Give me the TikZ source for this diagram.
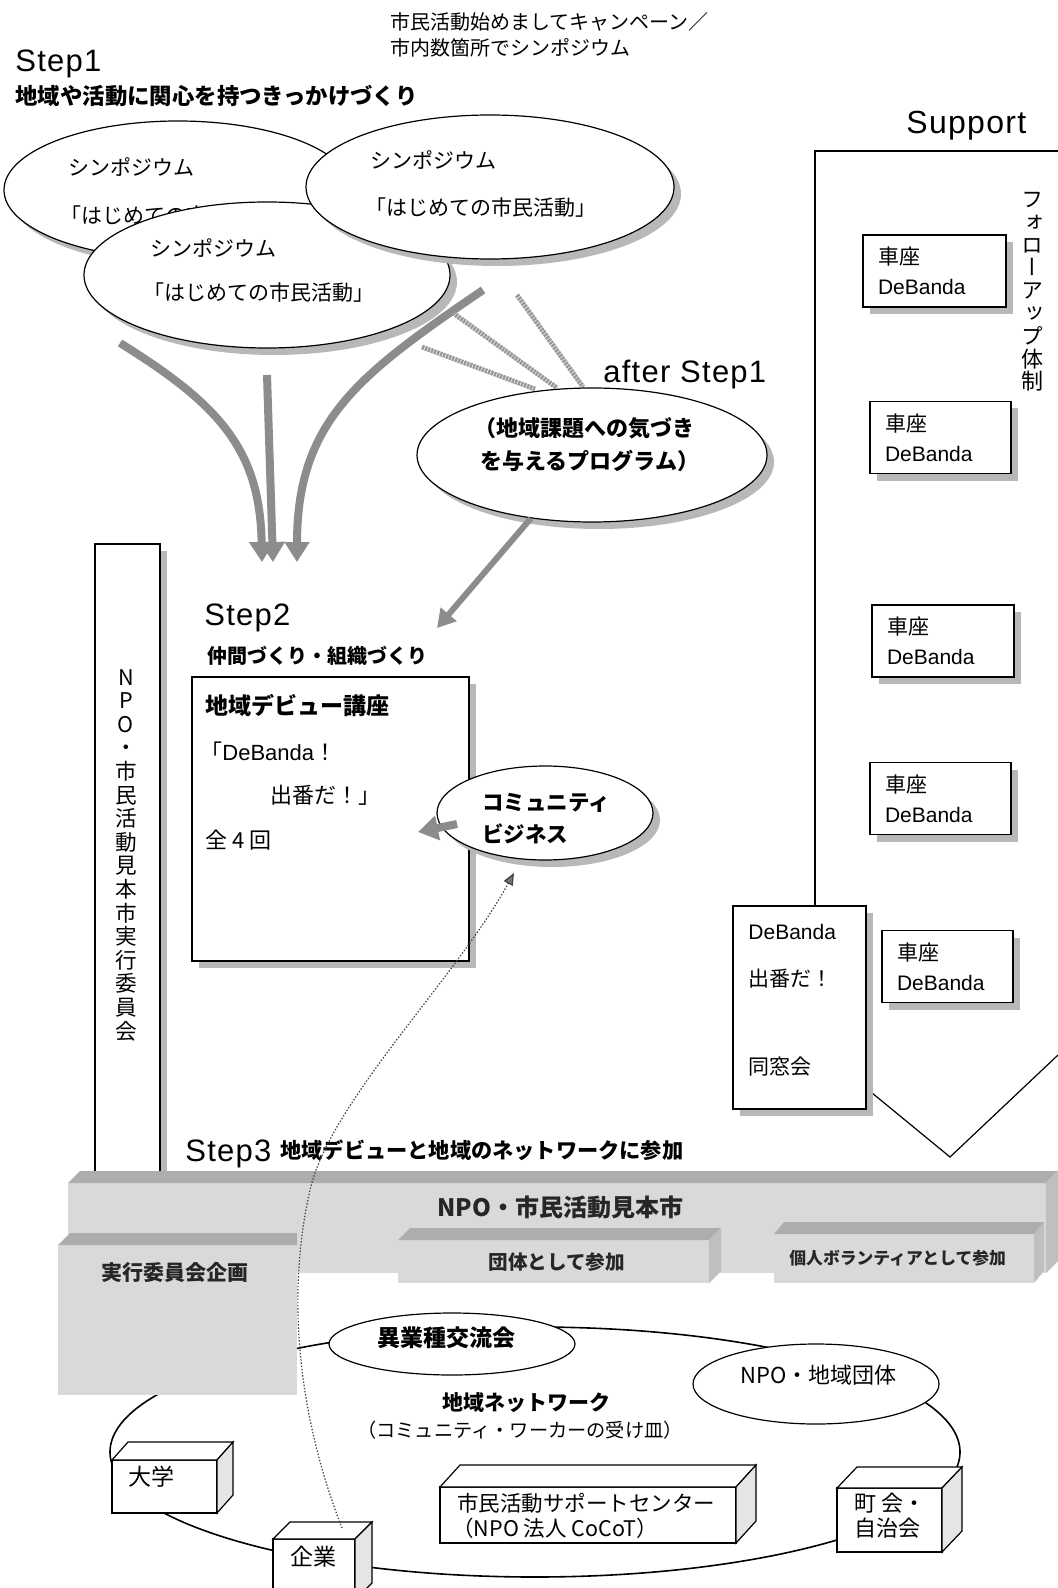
\documentclass[tikz,border=0pt]{standalone}
\usepackage{fontspec}
\setmainfont{Noto Sans CJK JP}
\newfontfamily\lat{Liberation Sans}
\newfontfamily\latw[LetterSpace=4]{Liberation Sans}
\newfontfamily\jpv[RawFeature=+vert]{Noto Sans CJK JP}
\usetikzlibrary{shapes.geometric,shadows,arrows.meta}
\newcommand\fsz[2]{\fontsize{#1}{#2}\selectfont}
\newcommand\threed[9]{%
 \fill[#7] (#1,#2) rectangle (#3,#4);
 \fill[#8] (#1,#2) -- ({#1+#5},{#2-#6}) -- ({#3+#5},{#2-#6}) -- (#3,#2) -- cycle;
 \fill[#9] (#3,#2) -- ({#3+#5},{#2-#6}) -- ({#3+#5},{#4-#6}) -- (#3,#4) -- cycle;}
\newcommand\wbox[6]{%
 \filldraw[fill=white, draw=black, line width=0.6pt] (#1,#2) rectangle (#3,#4);
 \filldraw[fill=white, draw=black, line width=0.6pt] (#1,#2) -- ({#1+#5},{#2-#6}) -- ({#3+#5},{#2-#6}) -- (#3,#2) -- cycle;
 \filldraw[fill=black!10, draw=black, line width=0.6pt] (#3,#2) -- ({#3+#5},{#2-#6}) -- ({#3+#5},{#4-#6}) -- (#3,#4) -- cycle;}
\begin{document}
\begin{tikzpicture}[x=0.5pt,y=-0.5pt,
 tx/.style={inner sep=0pt, anchor=west, text=black},
 ctx/.style={inner sep=0pt, anchor=center, text=black},
 ell/.style={ellipse, draw=black, line width=0.6pt, fill=white, inner sep=0pt},
 shd/.style={drop shadow={shadow xshift=3.5pt, shadow yshift=-3.5pt, fill=black!28, opacity=1}},
 rbox/.style={rectangle, draw=black, line width=0.6pt, fill=white, inner sep=0pt},
 kbox/.style={rbox, shd, minimum height=36pt, align=left, inner xsep=7.5pt, inner ysep=0pt, font=\fsz{10.5}{15}},
 garrow/.style={draw=black!45, line width=4pt, -{Triangle[length=10pt,width=12pt,fill=black!45]}},
 garrow2/.style={draw=black!45, line width=3pt, -{Triangle[length=9pt,width=10pt,fill=black!45]}},
 hatch/.style={draw=black!40, line width=2.4pt, dash pattern=on 1.2pt off 0.4pt},
 dotline/.style={draw=black!75, line width=0.6pt, dash pattern=on 0.7pt off 0.9pt, -{Triangle[length=6pt,width=5pt,fill=black!55]}},
 frame/.style={draw=black, line width=0.6pt}]
\fill[white] (0,0) rectangle (1058,1588);
\useasboundingbox (0,0) rectangle (1058,1588);

% ---------- top texts ----------
\node[tx,font=\fsz{10}{12}] (top1) at (390,22) {市民活動始めましてキャンペーン／};
\node[tx,font=\fsz{10}{12}] (top2) at (390,48) {市内数箇所でシンポジウム};
\node[tx,font=\latw\fsz{15.5}{18}] (s1) at (15,64) {Step1};
\node[tx,font=\bfseries\fsz{11.2}{13}] (s1t) at (15,96) {地域や活動に関心を持つきっかけづくり};

% ---------- symposium ellipses ----------
\node[ell,shd,minimum width=174pt,minimum height=69pt] (A) at (178,190) {};
\node[tx,font=\fsz{10.5}{12}] (At1) at (68,167) {シンポジウム};
\node[tx,font=\fsz{10.5}{12}] (At2) at (60,216) {「はじめての市民活動」};
\node[ell,shd,minimum width=183pt,minimum height=73pt] (C) at (267,275) {};
\node[tx,font=\fsz{10.5}{12}] (Ct1) at (150,248) {シンポジウム};
\node[tx,font=\fsz{10.5}{12}] (Ct2) at (143,293) {「はじめての市民活動」};
\node[ell,shd,minimum width=184pt,minimum height=72pt] (B) at (490,187) {};
\node[tx,font=\fsz{10.5}{12}] (Bt1) at (370,160) {シンポジウム};
\node[tx,font=\fsz{10.5}{12}] (Bt2) at (365,208) {「はじめての市民活動」};

% ---------- converging arrows ----------
\coordinate (a1s) at (120,343); \coordinate (a1e) at (262,562);
\coordinate (a2s) at (267,375); \coordinate (a2e) at (273,562);
\coordinate (a3s) at (483,290); \coordinate (a3e) at (297,562);
\draw[garrow] (a1s) .. controls (220,405) and (260,450) .. (a1e);
\draw[garrow] (a2s) -- (a2e);
\draw[garrow] (a3s) .. controls (360,374) and (297,420) .. (a3e);

% ---------- hatched lines ----------
\coordinate (h1s) at (422,347); \coordinate (h1e) at (535,389);
\coordinate (h2s) at (453,313); \coordinate (h2e) at (557,388);
\coordinate (h3s) at (517,295); \coordinate (h3e) at (583,387);
\draw[hatch] (h1s) -- (h1e);
\draw[hatch] (h2s) -- (h2e);
\draw[hatch] (h3s) -- (h3e);

% ---------- after step1 ----------
\node[tx,font=\latw\fsz{15.5}{18}] (as1) at (603,375) {after Step1};
\node[ell,shd,minimum width=175pt,minimum height=67pt] (D) at (592,455) {};
\node[tx,font=\bfseries\fsz{11}{13}] (Dt1) at (474,428) {（地域課題への気づき};
\node[tx,font=\bfseries\fsz{11}{13}] (Dt2) at (480,461) {を与えるプログラム）};
\coordinate (d2) at (437,628);
\draw[garrow2] (D.-134) -- (d2);

% ---------- NPO vertical box ----------
\node[rbox,shd,minimum width=32.5pt,minimum height=325.5pt] (V) at (127.5,869.5) {};
\node[font=\fsz{10.8}{11.8}, align=center, inner sep=0pt] (Vt) at (126,855)
 {N\\P\\O\\・\\市\\民\\活\\動\\見\\本\\市\\実\\行\\委\\員\\会};

% ---------- Step2 ----------
\node[tx,font=\latw\fsz{15.5}{18}] (s2) at (204,618) {Step2};
\node[tx,font=\bfseries\fsz{10}{12}] (s2t) at (207,656) {仲間づくり・組織づくり};
\node[rbox,shd,minimum width=138.5pt,minimum height=142pt] (S) at (330.5,819) {};
\node[tx,font=\bfseries\fsz{11.5}{13}] (S1) at (205,706) {地域デビュー講座};
\node[tx,font=\fsz{11}{13}] (S2) at (200,751) {「{\lat DeBanda}！};
\node[tx,font=\fsz{11}{13}] (S3) at (270,795) {出番だ！」};
\node[tx,font=\fsz{11}{13}] (S4) at (205,840) {全 4 回};

\node[ell,shd,minimum width=108pt,minimum height=47pt] (E) at (545,813) {};
\node[tx,font=\bfseries\fsz{10.75}{13}] (E1) at (482,803) {コミュニティ};
\node[tx,font=\bfseries\fsz{10.75}{13}] (E2) at (482,834) {ビジネス};
\coordinate (e2a) at (457,824); \coordinate (e2s) at (418,832);
\draw[garrow] (e2a) -- (e2s);

% ---------- Support ----------
\node[tx,font=\latw\fsz{16}{18}] (sup) at (906,126) {Support};
\draw[frame] (815,906) -- (815,151) -- (1058,151);
\draw[frame] (866,1088) -- (950,1157) -- (1058,1055);
\node[font=\jpv\fsz{11}{11.4}, align=center, inner sep=0pt] (ft) at (1032,292)
 {フ\\ォ\\ロ\\ー\\ア\\ッ\\プ\\体\\制};

\node[kbox,text width=56.5pt,minimum width=71.5pt] (K1) at (934.5,271) {車座\\{\lat DeBanda}};
\node[kbox,text width=55.5pt,minimum width=70.5pt] (K2) at (940.5,437.5) {車座\\{\lat DeBanda}};
\node[kbox,text width=56pt,minimum width=71pt] (K3) at (943,641) {車座\\{\lat DeBanda}};
\node[kbox,text width=55.5pt,minimum width=70.5pt] (K4) at (940.5,798.5) {車座\\{\lat DeBanda}};
\node[kbox,text width=50.5pt,minimum width=65.5pt] (K5) at (947.5,966.5) {車座\\{\lat DeBanda}};

\node[rbox,shd,minimum width=66.5pt,minimum height=101.5pt] (W) at (799.5,1007.5) {};
\node[tx,font=\lat\fsz{10.5}{12}] (W1) at (748,932) {DeBanda};
\node[tx,font=\fsz{10.5}{12}] (W2) at (748,979) {出番だ！};
\node[tx,font=\fsz{10.5}{12}] (W3) at (748,1067) {同窓会};

% ---------- Step3 ----------
\node[tx,font=\latw\fsz{15.5}{18}] (s3) at (185,1154) {Step3};
\node[tx,font=\bfseries\fsz{10.6}{12}] (s3t) at (280,1150) {地域デビューと地域のネットワークに参加};

\node[ell,fill=none,line width=0.8pt,minimum width=425pt,minimum height=125pt] (N) at (535,1452) {};

\threed{68}{1183}{1046}{1273}{12}{12}{black!15}{black!32}{black!25}
\node[tx,font=\bfseries\fsz{12}{14},text=black!85] (bandt) at (437,1207) {NPO・市民活動見本市};

\fill[black!15] (58,1245) rectangle (297,1395);
\fill[black!32] (58,1245) -- (70,1233) -- (297,1233) -- (297,1245) -- cycle;
\node[tx,font=\bfseries\fsz{10.5}{12},text=black!85] (jk) at (101,1272) {実行委員会企画};

\threed{398}{1240}{709}{1283}{12}{12}{black!15}{black!32}{black!25}
\node[tx,font=\bfseries\fsz{9.8}{12},text=black!85] (dt) at (488,1262) {団体として参加};
\threed{774}{1234}{1034}{1283}{10}{12}{black!15}{black!32}{black!25}
\node[tx,font=\bfseries\fsz{8.4}{10},text=black!85] (kj) at (789,1258) {個人ボランティアとして参加};

\node[ell,minimum width=123pt,minimum height=31pt] (F) at (452,1344) {};
\node[tx,font=\bfseries\fsz{11.5}{13}] (Ft) at (377,1338) {異業種交流会};
\node[ell,minimum width=123pt,minimum height=40pt] (G) at (816,1384) {};
\node[tx,font=\fsz{11}{13}] (Gt) at (740,1375) {NPO・地域団体};
\node[ctx,font=\bfseries\fsz{10.5}{12}] (Nt1) at (526,1403) {地域ネットワーク};
\node[ctx,font=\fsz{9.6}{12}] (Nt2) at (520,1430) {（コミュニティ・ワーカーの受け皿）};

\wbox{112}{1460}{217}{1513}{16}{18}
\node[tx,font=\fsz{11.5}{13}] (dg) at (128,1477) {大学};
\wbox{273}{1539}{355}{1600}{17}{17}
\node[tx,font=\fsz{11.5}{13}] (kg) at (290,1557) {企業};
\wbox{440}{1487}{736}{1543}{20}{22}
\node[tx,font=\fsz{10.75}{13}] (sc1) at (457,1503) {市民活動サポートセンター};
\node[tx,font=\fsz{10.75}{13}] (sc2) at (452,1528) {（NPO 法人 CoCoT）};
\wbox{837}{1488}{942}{1552}{20}{21}
\node[tx,font=\fsz{11}{13}] (ck1) at (854,1503) {町 会・};
\node[tx,font=\fsz{11}{13}] (ck2) at (854,1528) {自治会};

% ---------- dotted link ----------
\coordinate (dk) at (342,1528); \coordinate (dc) at (514,873);
\draw[dotline] (dk) .. controls (300,1420) and (285,1300) .. (310,1190)
  .. controls (330,1102) and (455,980) .. (dc);
\end{tikzpicture}
\end{document}
